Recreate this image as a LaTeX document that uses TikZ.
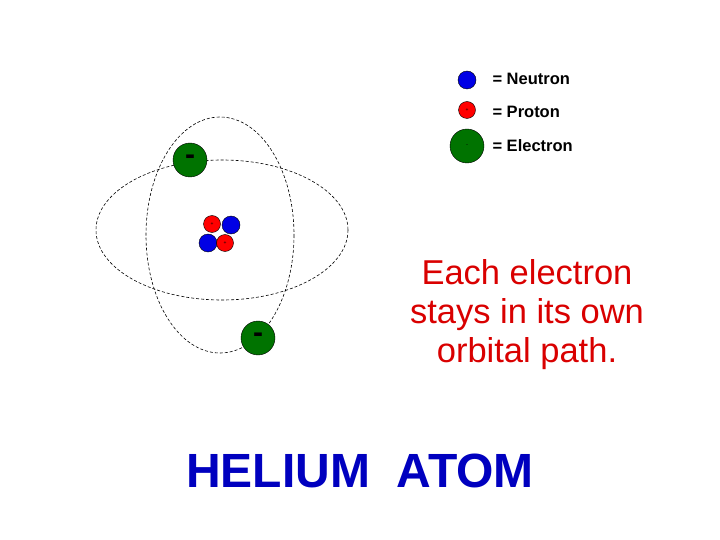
\documentclass[tikz,border=0pt]{standalone}
\usepackage{fontspec}
\setmainfont{Liberation Sans}
\begin{document}
\begin{tikzpicture}[x=1pt,y=-1pt,
 orbit/.style={draw,dashed,dash pattern=on 3pt off 2pt,line width=0.6pt},
 neut/.style={circle,draw,fill=blue!90!black,minimum size=18pt,inner sep=0pt},
 prot/.style={circle,draw,fill=red,minimum size=17pt,inner sep=0pt,font=\fontsize{5}{5}\selectfont},
 elec/.style={circle,draw,fill=green!45!black,minimum size=34pt,inner sep=0pt,font=\fontsize{30}{30}\bfseries\selectfont},
 leg/.style={anchor=west,font=\fontsize{16.5}{17}\bfseries\selectfont}]
\useasboundingbox (0,0) rectangle (720,540);
\draw[orbit] (222,230) ellipse [x radius=126, y radius=70];
\draw[orbit] (220,235) ellipse [x radius=74, y radius=118];
\node[elec] (e1) at (190,160) {-};
\node[elec] (e2) at (258,338) {-};
\node[prot] (p1) at (212,224) {+};
\node[neut] (n1) at (231,225) {};
\node[neut] (n2) at (208,243) {};
\node[prot] (p2) at (225,243) {+};
\node[neut] (ln) at (467,80) {};
\node[prot] (lp) at (467,110) {+};
\node[elec,font=\fontsize{6}{6}\selectfont] (le) at (467,146) {-};
\node[leg] (tn) at (489,79) {= Neutron};
\node[leg] (tp) at (489,112) {= Proton};
\node[leg] (te) at (489,146) {= Electron};
\node[align=center,text=red!85!black,font=\fontsize{34.5}{39}\selectfont] (msg) at (527,315) {Each electron\\stays in its own\\orbital path.};
\node[text=blue!75!black,font=\fontsize{48}{48}\bfseries\selectfont] (title) at (360,471) {HELIUM\ \ ATOM};
\end{tikzpicture}
\end{document}
